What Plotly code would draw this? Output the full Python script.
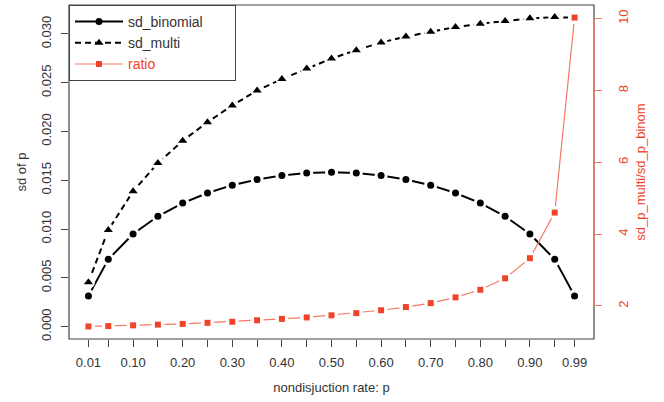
import plotly.graph_objects as go

p = [0.01, 0.05, 0.10, 0.15, 0.20, 0.25, 0.30, 0.35, 0.40, 0.45, 0.50,
     0.55, 0.60, 0.65, 0.70, 0.75, 0.80, 0.85, 0.90, 0.95, 0.99]
sd_binomial = [0.00315, 0.00690, 0.00949, 0.01131, 0.01266, 0.01370, 0.01450,
               0.01509, 0.01550, 0.01574, 0.01582, 0.01574, 0.01550, 0.01509,
               0.01450, 0.01370, 0.01266, 0.01131, 0.00949, 0.00690, 0.00315]
sd_multi = [0.00456, 0.00990, 0.01388, 0.01677, 0.01905, 0.02095, 0.02268,
            0.02420, 0.02538, 0.02646, 0.02748, 0.02834, 0.02912, 0.02973,
            0.03023, 0.03071, 0.03105, 0.03133, 0.03160, 0.03173, 0.03166]
ratio = [1.43, 1.44, 1.46, 1.48, 1.50, 1.53, 1.56, 1.60, 1.64, 1.68, 1.74,
         1.80, 1.88, 1.97, 2.08, 2.24, 2.45, 2.77, 3.33, 4.60, 10.03]
x_tick_labels = ["0.01", "", "0.10", "", "0.20", "", "0.30", "", "0.40", "",
                 "0.50", "", "0.60", "", "0.70", "", "0.80", "", "0.90", "",
                 "0.99"]
y_ticks = [0.000, 0.005, 0.010, 0.015, 0.020, 0.025, 0.030]
y2_ticks = [2, 4, 6, 8, 10]

RED = "#f0432a"
RED_LINE = "#f47a63"
BLACK = "#000000"
AXC = "#444444"
TXT = "#333333"
FONT = "Liberation Sans, Arial, Helvetica, sans-serif"
PAD = "\u00a0" * 7

fig = go.Figure()

def add_series(y, symbol, msize, color, lcolor, lw, dash, yaxis, legname):
    fig.add_trace(go.Scatter(x=p, y=y, mode="lines+markers", name=legname,
                             yaxis=yaxis,
                             line=dict(color=lcolor, width=lw, dash=dash),
                             marker=dict(symbol=symbol, size=msize, color=color),
                             hoverinfo="skip"))
    fig.add_trace(go.Scatter(x=p, y=y, mode="markers", showlegend=False,
                             yaxis=yaxis,
                             marker=dict(symbol="circle", size=13, color="white"),
                             hoverinfo="skip"))
    fig.add_trace(go.Scatter(x=p, y=y, mode="markers", showlegend=False,
                             yaxis=yaxis,
                             marker=dict(symbol=symbol, size=msize, color=color),
                             hoverinfo="skip"))

add_series(sd_binomial, "circle", 7, BLACK, BLACK, 2, "solid", "y", "sd_binomial" + PAD)
add_series(sd_multi, "triangle-up", 8, BLACK, BLACK, 2, "6px,4px", "y", "sd_multi")
add_series(ratio, "square", 6, RED, RED_LINE, 1.2, "solid", "y2",
           "<span style='color:%s'>ratio</span>" % RED)

fig.update_layout(
    width=664, height=402,
    margin=dict(l=69, r=70, t=5, b=63, autoexpand=False),
    paper_bgcolor="white", plot_bgcolor="white",
    font=dict(family=FONT, size=13, color=TXT),
    showlegend=True,
    legend=dict(x=0, y=1, xanchor="left", yanchor="top",
                bordercolor=AXC, borderwidth=1, bgcolor="white",
                font=dict(size=14, color=TXT),
                tracegroupgap=0, itemwidth=48),
    xaxis=dict(range=[-0.0292, 1.0292], tickmode="array", tickvals=p,
               ticktext=x_tick_labels, ticks="outside", ticklen=7,
               tickcolor=AXC, showgrid=False, zeroline=False, showline=False,
               automargin=False, ticklabelstandoff=4,
               tickfont=dict(size=13, color=TXT),
               title=dict(text="nondisjuction rate: p", standoff=14,
                          font=dict(size=13, color=TXT))),
    yaxis=dict(range=[-0.00127, 0.03297], tickmode="array", tickvals=y_ticks,
               ticktext=["%.3f" % v for v in y_ticks], tickangle=-90,
               ticks="outside", ticklen=7, tickcolor=AXC, showgrid=False,
               zeroline=False, showline=False, automargin=False,
               ticklabelstandoff=5,
               tickfont=dict(size=13, color=TXT),
               title=dict(text="sd of p", standoff=9,
                          font=dict(size=13, color=TXT))),
    yaxis2=dict(range=[1.08, 10.38], overlaying="y", side="right",
                tickmode="array", tickvals=y2_ticks,
                ticktext=[str(v) for v in y2_ticks], tickangle=-90,
                ticks="outside", ticklen=7, tickcolor=RED_LINE, showgrid=False,
                zeroline=False, showline=False, automargin=False,
                ticklabelstandoff=10,
                tickfont=dict(size=13, color=RED),
                title=dict(text="sd_p_multi/sd_p_binom", standoff=6,
                           font=dict(size=13, color=RED))),
    shapes=[
        dict(type="rect", xref="paper", yref="paper", x0=0, x1=1, y0=0, y1=1,
             line=dict(color=AXC, width=1.2), layer="above"),
        dict(type="line", xref="paper", yref="y2", x0=1, x1=1, y0=2, y1=10,
             line=dict(color=RED_LINE, width=1.5), layer="above"),
    ],
)

fig.write_html("out.html", config={"displayModeBar": False},
               post_script="document.body.style.margin='0';")
